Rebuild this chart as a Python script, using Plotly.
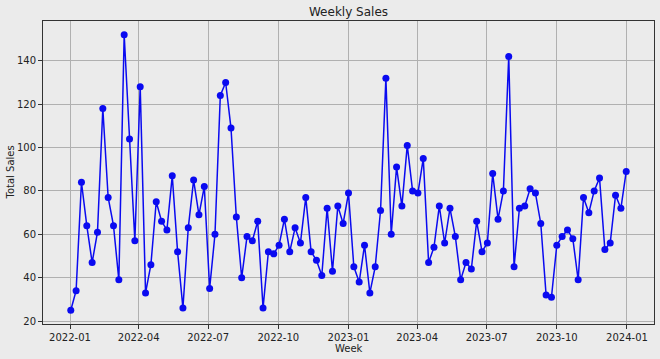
import pandas as pd
import plotly.graph_objects as go

weeks = pd.date_range("2022-01-02", periods=105, freq="7D")
sales = [25, 34, 84, 64, 47, 61, 118, 77, 64, 39,
         152, 104, 57, 128, 33, 46, 75, 66, 62, 87,
         52, 26, 63, 85, 69, 82, 35, 60, 124, 130,
         109, 68, 40, 59, 57, 66, 26, 52, 51, 55,
         67, 52, 63, 56, 77, 52, 48, 41, 72, 43,
         73, 65, 79, 45, 38, 55, 33, 45, 71, 132,
         60, 91, 73, 101, 80, 79, 95, 47, 54, 73,
         56, 72, 59, 39, 47, 44, 66, 52, 56, 88,
         67, 80, 142, 45, 72, 73, 81, 79, 65, 32,
         31, 55, 59, 62, 58, 39, 77, 70, 80, 86,
         53, 56, 78, 72, 89]
y_ticks = [20, 40, 60, 80, 100, 120, 140]

fig = go.Figure(go.Scatter(
    x=weeks, y=sales, mode="lines+markers",
    line=dict(color="#0a0af0", width=1.5),
    marker=dict(color="#0a0af0", size=7),
))

span = weeks[-1] - weeks[0]
pad = span * 0.05
ypad = (max(sales) - min(sales)) * 0.05

font = "DejaVu Sans"
fig.update_layout(
    width=660, height=359,
    margin=dict(l=43, r=6, t=21, b=35, autoexpand=False),
    paper_bgcolor="#ebebeb", plot_bgcolor="#ebebeb",
    font=dict(family=font, size=10, color="#222"),
    title=dict(text="Weekly Sales", x=0.5, xref="paper", xanchor="center",
               y=1 - 12 / 359, yanchor="middle", font=dict(size=12, color="#222")),
    showlegend=False,
    annotations=[
        dict(text="Week", xref="paper", yref="paper", x=0.5, y=-24 / 303,
             yanchor="middle", xanchor="center", showarrow=False,
             font=dict(size=10, color="#222")),
        dict(text="Total Sales", xref="paper", yref="paper", x=-33 / 611, y=0.5,
             textangle=-90, xanchor="center", yanchor="middle", showarrow=False,
             font=dict(size=10, color="#222")),
    ],
)
fig.update_xaxes(
    range=[weeks[0] - pad, weeks[-1] + pad],
    tickformat="%Y-%m", dtick="M3", tick0="2022-01-01",
    showgrid=True, gridcolor="#b0b0b0", gridwidth=1,
    showline=True, linecolor="#333", linewidth=1, mirror=True,
    ticks="outside", ticklen=4, tickcolor="#333",
    automargin=False, zeroline=False,
)
fig.update_yaxes(
    range=[min(sales) - ypad, max(sales) + ypad],
    tickvals=y_ticks,
    showgrid=True, gridcolor="#b0b0b0", gridwidth=1,
    showline=True, linecolor="#333", linewidth=1, mirror=True,
    ticks="outside", ticklen=4, tickcolor="#333",
    automargin=False, zeroline=False,
)
fig.write_html(
    "out.html",
    config={"displayModeBar": False},
    post_script="document.body.style.margin='0';document.body.style.overflow='hidden';",
)
